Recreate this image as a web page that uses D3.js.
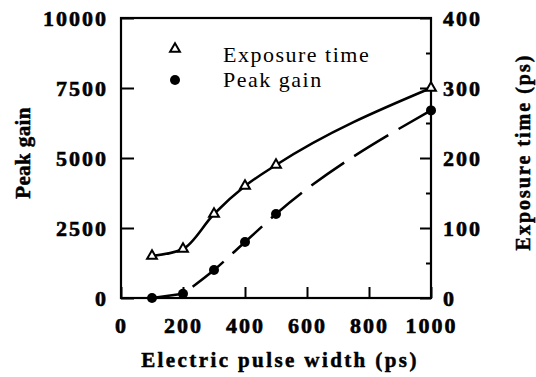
<!DOCTYPE html>
<html>
<head>
<meta charset="utf-8">
<script src="https://cdn.jsdelivr.net/npm/d3@7/dist/d3.min.js"></script>
<style>
  html, body { margin: 0; padding: 0; background: #fff; }
  svg { display: block; }
  .tick text { font-family: "Liberation Serif", "Times New Roman", serif; font-weight: bold; font-size: 22px; letter-spacing: 2px; fill: #000; stroke: #000; stroke-width: 0.6px; }
  .title { stroke: #000; stroke-width: 0.5px; }
</style>
</head>
<body>
<svg id="chart" width="536" height="377"></svg>
<script>
// Pulse width (ps) at each measurement
const pulseWidth = [100, 200, 300, 400, 500, 1000];
// Exposure time (ps), right axis
const exposureTime = [60, 70, 120, 160, 190, 300];
// Peak gain, left axis
const peakGain = [0, 150, 1000, 2000, 3000, 6700];

const xTicks = [0, 200, 400, 600, 800, 1000];
const gainTicks = [0, 2500, 5000, 7500, 10000];
const timeTicks = [0, 100, 200, 300, 400];
const timeMinorTicks = [50, 150, 250, 350];

const svg = d3.select("#chart");
const plotLeft = 121, plotRight = 431, plotTop = 18, plotBottom = 298;

const x = d3.scaleLinear().domain([0, 1000]).range([plotLeft, plotRight]);
const yGain = d3.scaleLinear().domain([0, 10000]).range([plotBottom, plotTop]);
const yTime = d3.scaleLinear().domain([0, 400]).range([plotBottom, plotTop]);

// Axes with inward ticks
const gAxisL = svg.append("g").attr("transform", `translate(${plotLeft},0)`)
  .call(d3.axisLeft(yGain).tickValues(gainTicks).tickSize(-13).tickPadding(13).tickFormat(d3.format("d")));
const gAxisR = svg.append("g").attr("transform", `translate(${plotRight},0)`)
  .call(d3.axisRight(yTime).tickValues(timeTicks).tickSize(-11).tickPadding(12).tickFormat(d3.format("d")));
const gAxisRm = svg.append("g").attr("transform", `translate(${plotRight},0)`)
  .call(d3.axisRight(yTime).tickValues(timeMinorTicks).tickSize(-5).tickFormat(""));
const gAxisB = svg.append("g").attr("transform", `translate(0,${plotBottom})`)
  .call(d3.axisBottom(x).tickValues(xTicks).tickSize(-11).tickPadding(19).tickFormat(d3.format("d")));

[gAxisL, gAxisR, gAxisRm, gAxisB].forEach(g => {
  g.select(".domain").remove();
  g.selectAll(".tick line").attr("stroke", "#000").attr("stroke-width", 2);
});

// Frame
svg.append("rect")
  .attr("x", plotLeft).attr("y", plotTop)
  .attr("width", plotRight - plotLeft).attr("height", plotBottom - plotTop)
  .attr("fill", "none").attr("stroke", "#000").attr("stroke-width", 2.2);

const timePts = pulseWidth.map((p, i) => [x(p), yTime(exposureTime[i])]);
const gainPts = pulseWidth.map((p, i) => [x(p), yGain(peakGain[i])]);
const lineGen = d3.line().curve(d3.curveMonotoneX);

// Exposure time curve (solid)
svg.append("path")
  .attr("d", lineGen(timePts))
  .attr("fill", "none").attr("stroke", "#000").attr("stroke-width", 2.5);

// Peak gain: solid over the first interval, dashed beyond
svg.append("path")
  .attr("d", lineGen(gainPts.slice(0, 2)))
  .attr("fill", "none").attr("stroke", "#000").attr("stroke-width", 2.5);
svg.append("path")
  .attr("d", lineGen(gainPts.slice(1)))
  .attr("fill", "none").attr("stroke", "#000").attr("stroke-width", 2.5)
  .attr("stroke-dasharray", "40,12").attr("stroke-dashoffset", 40);

// Markers
const tri = d3.symbol().type(d3.symbolTriangle).size(42);
svg.append("g").selectAll("path").data(timePts).join("path")
  .attr("d", tri)
  .attr("transform", d => `translate(${d[0]},${d[1]})`)
  .attr("fill", "#fff").attr("stroke", "#000").attr("stroke-width", 2);

svg.append("g").selectAll("circle").data(gainPts).join("circle")
  .attr("cx", d => d[0]).attr("cy", d => d[1]).attr("r", 5)
  .attr("fill", "#000");

// Legend
const serif = "Liberation Serif, Times New Roman, serif";
const legend = svg.append("g");
legend.append("path").attr("d", tri).attr("transform", "translate(175,49)")
  .attr("fill", "#fff").attr("stroke", "#000").attr("stroke-width", 2);
legend.append("circle").attr("cx", 175).attr("cy", 80).attr("r", 5).attr("fill", "#000");
legend.append("text").attr("x", 223).attr("y", 62).text("Exposure time")
  .attr("font-family", serif).attr("font-size", 22).attr("letter-spacing", "1.5px");
legend.append("text").attr("x", 223).attr("y", 86.5).text("Peak gain")
  .attr("font-family", serif).attr("font-size", 22).attr("letter-spacing", "1.5px");

// Axis titles
svg.append("text").attr("class", "title").attr("x", 280).attr("y", 367).attr("text-anchor", "middle")
  .attr("font-family", serif).attr("font-weight", "bold").attr("font-size", 21)
  .attr("letter-spacing", "2.4px").text("Electric pulse width (ps)");
svg.append("text").attr("class", "title").attr("transform", "translate(30,153) rotate(-90)").attr("text-anchor", "middle")
  .attr("font-family", serif).attr("font-weight", "bold").attr("font-size", 21)
  .attr("letter-spacing", "0.4px").text("Peak gain");
svg.append("text").attr("class", "title").attr("transform", "translate(530,152) rotate(-90)").attr("text-anchor", "middle")
  .attr("font-family", serif).attr("font-weight", "bold").attr("font-size", 20)
  .attr("letter-spacing", "2px").text("Exposure time (ps)");
</script>
</body>
</html>
